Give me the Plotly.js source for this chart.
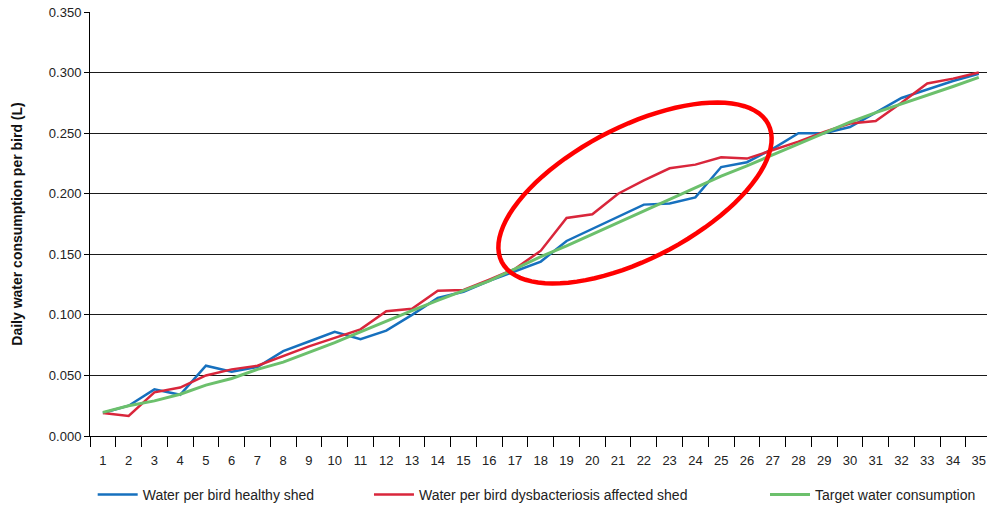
<!DOCTYPE html>
<html>
<head>
<meta charset="utf-8">
<script src="https://cdn.plot.ly/plotly-3.0.1.min.js"></script>
<style>html,body{margin:0;padding:0;background:#fff;}#chart{width:987px;height:508px;}</style>
</head>
<body>
<div id="chart"></div>
<script>
// ---- data ----
const days = ['1','2','3','4','5','6','7','8','9','10','11','12','13','14','15','16','17','18','19','20','21','22','23','24','25','26','27','28','29','30','31','32','33','34','35'];
const healthyShed = [0.019,0.025,0.0385,0.034,0.058,0.053,0.057,0.070,0.078,0.086,0.080,0.087,0.100,0.114,0.119,0.128,0.136,0.144,0.161,0.171,0.181,0.191,0.192,0.197,0.222,0.226,0.237,0.250,0.250,0.255,0.267,0.279,0.286,0.293,0.299];
const affectedShed = [0.019,0.0165,0.036,0.040,0.050,0.055,0.058,0.066,0.074,0.081,0.088,0.103,0.105,0.120,0.1205,0.129,0.138,0.153,0.180,0.183,0.200,0.211,0.221,0.224,0.230,0.229,0.236,0.243,0.251,0.258,0.260,0.275,0.291,0.295,0.300];
const targetWater = [0.0195,0.025,0.029,0.0345,0.042,0.0475,0.055,0.061,0.069,0.077,0.086,0.095,0.1035,0.112,0.120,0.128,0.138,0.148,0.157,0.1665,0.176,0.1855,0.195,0.2045,0.2145,0.223,0.232,0.241,0.250,0.259,0.267,0.274,0.281,0.2885,0.296];
const seriesNames = ['Water per bird healthy shed','Water per bird dysbacteriosis affected shed','Target water consumption'];
const yTitle = 'Daily water consumption per bird (L)';

// ---- layout constants ----
const W = 987, H = 508;
const M = {l:90, r:0, t:12, b:72, autoexpand:false};
const plotW = W - M.l - M.r, plotH = H - M.t - M.b;
const FONT = 'Liberation Sans, Arial, sans-serif';

// highlight ellipse (pixel geometry of the annotation)
const ell = {cx:635, cy:193, a:150, b:66, deg:27.35};
function ellipsePath(){
  const phi = ell.deg*Math.PI/180;
  let d = '';
  for (let k=0;k<=90;k++){
    const t = 2*Math.PI*k/90;
    const px = ell.cx + ell.a*Math.cos(t)*Math.cos(phi) + ell.b*Math.sin(t)*Math.sin(phi);
    const py = ell.cy - ell.a*Math.cos(t)*Math.sin(phi) + ell.b*Math.sin(t)*Math.cos(phi);
    const xp = (px - M.l)/plotW, yp = (M.t + plotH - py)/plotH;
    d += (k===0?'M':'L') + xp.toFixed(5) + ',' + yp.toFixed(5) + ' ';
  }
  return d + 'Z';
}

const traces = [
  {x:days, y:healthyShed, name:seriesNames[0], type:'scatter', mode:'lines', line:{color:'#1670be', width:2.5}, legend:'legend'},
  {x:days, y:affectedShed, name:seriesNames[1], type:'scatter', mode:'lines', line:{color:'#d9263b', width:2.5}, legend:'legend2'},
  {x:days, y:targetWater, name:seriesNames[2], type:'scatter', mode:'lines', line:{color:'#6cc06c', width:3}, legend:'legend3'}
];

const legFont = {family:FONT, size:14, color:'#222'};
const legY = -0.139;
function leg(x){ return {x:x, y:legY, xanchor:'left', yanchor:'middle', orientation:'h', font:legFont, bgcolor:'rgba(0,0,0,0)', itemwidth:40}; }
const layout = {
  width:W, height:H,
  margin:M,
  paper_bgcolor:'#fff', plot_bgcolor:'#fff',
  showlegend:true,
  xaxis:{type:'category', range:[-0.5, 34.32], tickson:'boundaries', ticks:'outside', ticklen:10, tickcolor:'#000', tickwidth:1,
         showline:true, linecolor:'#000', linewidth:1, showgrid:false, zeroline:false, ticklabelstandoff:12,
         tickfont:{family:FONT, size:13, color:'#222'}, fixedrange:true, automargin:false},
  yaxis:{range:[0,0.35], tick0:0, dtick:0.05, tickformat:'.3f', ticks:'outside', ticklen:5, tickcolor:'#000',
         showline:true, linecolor:'#000', linewidth:1, showgrid:true, gridcolor:'#1a1a1a', gridwidth:1, zeroline:false,
         tickfont:{family:FONT, size:13, color:'#222'},
         title:{text:yTitle, font:{family:FONT, size:14, color:'#111', weight:'bold'}, standoff:22}, automargin:false, fixedrange:true},
  legend:leg(0.003),
  legend2:leg(0.311),
  legend3:leg(0.7525),
  shapes:[{type:'path', xref:'paper', yref:'paper', path:ellipsePath(), line:{color:'#ff0000', width:4.5}, fillcolor:'rgba(0,0,0,0)', layer:'above'}]
};

Plotly.newPlot('chart', traces, layout, {displayModeBar:false, staticPlot:true});
</script>
</body>
</html>
